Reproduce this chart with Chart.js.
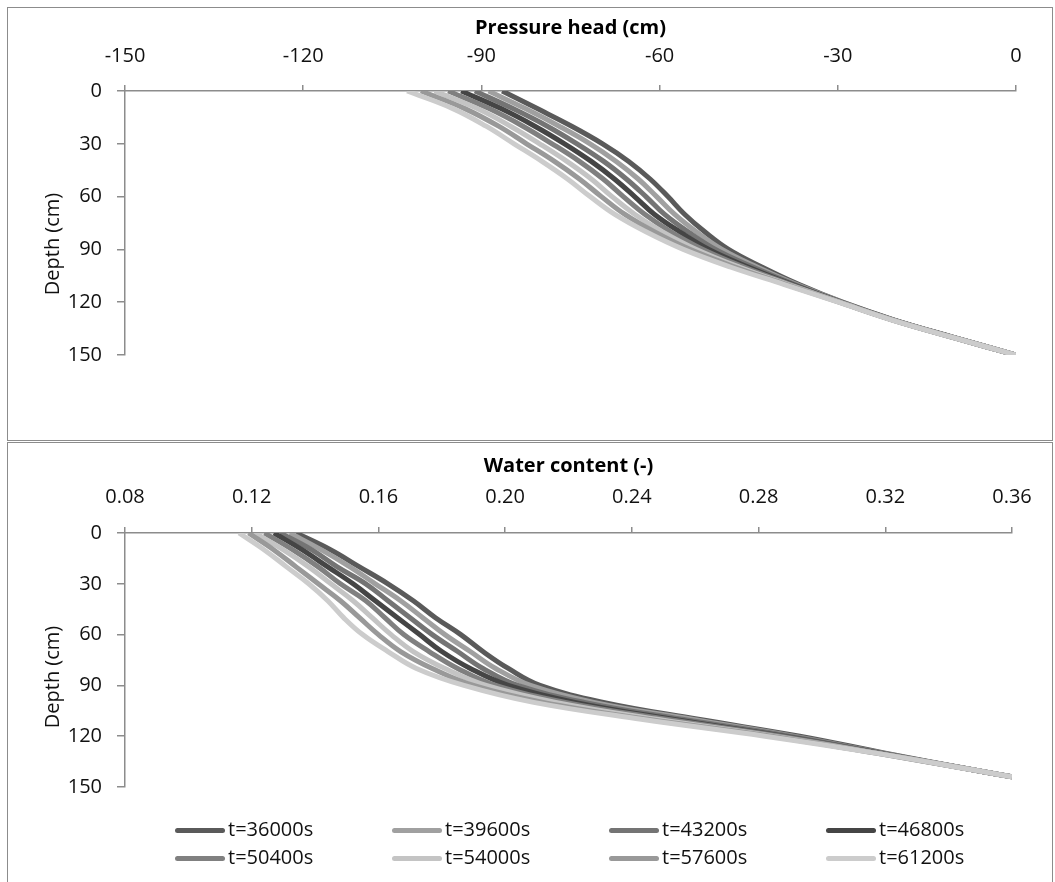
<!DOCTYPE html>
<html lang="en">
<head>
<meta charset="UTF-8">
<title>Pressure head and water content profiles</title>
<style>
  body {
    margin: 0;
    background: #fff;
    overflow: hidden;
    font-family: "Open Sans", sans-serif;
  }
  .panel {
    position: absolute;
    left: 7px;
    width: 1046px;
    border: 1px solid #8c8c8c;
    box-sizing: border-box;
    background: #fff;
  }
  #topPanel { top: 7px; height: 434px; }
  #bottomPanel { top: 442px; height: 470px; }
  canvas { display: block; }

  .legend {
    position: absolute;
    left: 167px;
    top: 372px;
    display: grid;
    grid-template-columns: repeat(4, 217px);
    font-size: 20px;
    line-height: 28px;
    color: #111;
  }
  .legend .key {
    display: inline-block;
    width: 50px;
    height: 5px;
    border-radius: 3px;
    vertical-align: middle;
    margin-right: 3px;
  }
</style>
</head>
<body>
<div class="panel" id="topPanel">
  <canvas id="headChart" width="1044" height="432"></canvas>
</div>
<div class="panel" id="bottomPanel">
  <canvas id="thetaChart" width="1044" height="440"></canvas>
  <div class="legend" id="legend"></div>
</div>

<script src="https://cdn.jsdelivr.net/npm/chart.js"></script>
<script>
// output times and line greys
const timeLabels = ['t=36000s', 't=39600s', 't=43200s', 't=46800s', 't=50400s', 't=54000s', 't=57600s', 't=61200s'];
const lineColors = ['#5a5a5a', '#a0a0a0', '#747474', '#454545', '#808080', '#c4c4c4', '#999999', '#cccccc'];

// depth nodes (cm)
const headDepths = [0, 10, 20, 30, 40, 50, 60, 70, 80, 90, 100, 110, 120, 130, 140, 150];
const thetaDepths = [0, 10, 20, 30, 40, 50, 60, 70, 80, 90, 100, 110, 120, 130, 140, 144];

// axis ticks
const headTicks = [-150, -120, -90, -60, -30, 0];
const thetaTicks = [0.08, 0.12, 0.16, 0.20, 0.24, 0.28, 0.32, 0.36];
const depthTicks = [0, 30, 60, 90, 120, 150];

// pressure head (cm) at each depth node
const head36000 = [-86.5, -80.6, -74.8, -69.6, -65.2, -61.6, -58.6, -55.8, -52.4, -48.4, -42.8, -36.5, -29.2, -20.6, -10.5, 0];
const head39600 = [-88.8, -82.6, -76.9, -71.7, -67.3, -63.6, -60.5, -57.5, -53.8, -49.5, -43.6, -36.9, -29.3, -20.7, -10.5, 0];
const head43200 = [-91.1, -84.7, -78.9, -73.9, -69.4, -65.6, -62.3, -59.2, -55.2, -50.6, -44.3, -37.2, -29.4, -20.7, -10.6, 0];
const head46800 = [-93.4, -86.7, -81.0, -76.0, -71.5, -67.6, -64.2, -60.9, -56.6, -51.7, -45.1, -37.6, -29.5, -20.8, -10.6, 0];
const head50400 = [-95.6, -88.7, -83.0, -78.1, -73.5, -69.5, -66.1, -62.5, -58.1, -52.7, -45.8, -37.9, -29.6, -20.8, -10.6, 0];
const head54000 = [-97.9, -90.7, -85.1, -80.2, -75.6, -71.5, -68.0, -64.2, -59.5, -53.8, -46.6, -38.3, -29.7, -20.9, -10.7, 0];
const head57600 = [-100.2, -92.8, -87.1, -82.4, -77.7, -73.5, -69.8, -65.9, -60.9, -54.9, -47.3, -38.6, -29.8, -20.9, -10.7, 0];
const head61200 = [-102.5, -94.8, -89.2, -84.5, -79.8, -75.5, -71.7, -67.6, -62.3, -56.0, -48.1, -39.0, -29.9, -21.0, -10.7, 0];

// volumetric water content (-) at each depth node
const theta36000 = [0.134, 0.145, 0.154, 0.163, 0.171, 0.178, 0.186, 0.193, 0.201, 0.211, 0.231, 0.261, 0.293, 0.320, 0.348, 0.360];
const theta39600 = [0.132, 0.142, 0.151, 0.159, 0.167, 0.174, 0.181, 0.189, 0.197, 0.208, 0.228, 0.259, 0.291, 0.319, 0.348, 0.360];
const theta43200 = [0.129, 0.139, 0.147, 0.156, 0.163, 0.170, 0.177, 0.185, 0.193, 0.204, 0.225, 0.256, 0.290, 0.319, 0.348, 0.360];
const theta46800 = [0.127, 0.136, 0.144, 0.152, 0.159, 0.166, 0.173, 0.180, 0.189, 0.201, 0.222, 0.253, 0.288, 0.318, 0.348, 0.360];
const theta50400 = [0.124, 0.133, 0.141, 0.148, 0.156, 0.162, 0.168, 0.176, 0.185, 0.197, 0.219, 0.251, 0.287, 0.318, 0.348, 0.360];
const theta54000 = [0.121, 0.130, 0.138, 0.145, 0.152, 0.158, 0.164, 0.171, 0.181, 0.194, 0.216, 0.248, 0.285, 0.317, 0.348, 0.360];
const theta57600 = [0.119, 0.127, 0.134, 0.141, 0.148, 0.154, 0.160, 0.167, 0.177, 0.190, 0.212, 0.245, 0.284, 0.317, 0.348, 0.360];
const theta61200 = [0.116, 0.124, 0.131, 0.138, 0.144, 0.149, 0.155, 0.163, 0.172, 0.187, 0.209, 0.243, 0.282, 0.317, 0.348, 0.360];

const headSeries = [head36000, head39600, head43200, head46800, head50400, head54000, head57600, head61200];
const thetaSeries = [theta36000, theta39600, theta43200, theta46800, theta50400, theta54000, theta57600, theta61200];

Chart.defaults.font.family = "'Open Sans', sans-serif";
Chart.defaults.font.size = 20;
Chart.defaults.color = '#111';

const axisGrey = '#8c8c8c';

// rotated depth label, sitting a little below the middle of the axis
const depthTitle = {
    id: 'depthTitle',
    afterDraw(chart, args, opts) {
        const { ctx, chartArea } = chart;
        ctx.save();
        ctx.translate(opts.x, (chartArea.top + chartArea.bottom) / 2 + opts.shift);
        ctx.rotate(-Math.PI / 2);
        ctx.font = "20px 'Open Sans'";
        ctx.fillStyle = '#111';
        ctx.textAlign = 'center';
        ctx.textBaseline = 'middle';
        ctx.fillText('Depth (cm)', 0, 0);
        ctx.restore();
    }
};

// one profile line per output time, later times drawn on top
function buildDatasets(series, depths) {
    return series.map((vals, i) => ({
        label: timeLabels[i],
        data: vals.map((v, j) => ({ x: v, y: depths[j] })),
        borderColor: lineColors[i],
        backgroundColor: lineColors[i],
        borderWidth: 5,
        pointRadius: 0,
        showLine: true,
        tension: 0.4,
        order: series.length - i
    }));
}

function buildOptions(cfg) {
    return {
        responsive: false,
        animation: false,
        layout: { padding: cfg.padding },
        plugins: {
            legend: { display: false },
            tooltip: { enabled: false },
            depthTitle: { x: 45, shift: cfg.titleShift }
        },
        scales: {
            x: {
                type: 'linear',
                position: 'top',
                min: cfg.xTicks[0],
                max: cfg.xTicks[cfg.xTicks.length - 1],
                afterBuildTicks: axis => { axis.ticks = cfg.xTicks.map(v => ({ value: v })); },
                // fixed band: title + labels + gap + tick marks
                afterFit: axis => { axis.height = cfg.xBand; },
                ticks: {
                    padding: cfg.tickPad,
                    maxRotation: 0,
                    callback: cfg.format
                },
                grid: { drawOnChartArea: false, tickLength: 6, color: axisGrey, lineWidth: 1.5 },
                border: { color: axisGrey, width: 1.5 },
                title: {
                    display: true,
                    text: cfg.xTitle,
                    font: { size: 20, weight: 'bold' },
                    color: '#000',
                    padding: { top: 0, bottom: 4 }
                }
            },
            y: {
                type: 'linear',
                reverse: true,
                min: 0,
                max: 150,
                afterBuildTicks: axis => { axis.ticks = depthTicks.map(v => ({ value: v })); },
                afterFit: axis => { axis.width = 89; },
                ticks: { padding: 15 },
                grid: { drawOnChartArea: false, tickLength: 8, color: axisGrey, lineWidth: 1.5 },
                border: { color: axisGrey, width: 1.5 }
            }
        }
    };
}

new Chart(document.getElementById('headChart'), {
    type: 'scatter',
    data: { datasets: buildDatasets(headSeries, headDepths) },
    options: buildOptions({
        xTitle: 'Pressure head (cm)',
        xTicks: headTicks,
        format: v => String(v),
        tickPad: 17,
        xBand: 75,
        titleShift: 21,
        padding: { left: 28, right: 36, top: 8, bottom: 85 }
    }),
    plugins: [depthTitle]
});

new Chart(document.getElementById('thetaChart'), {
    type: 'scatter',
    data: { datasets: buildDatasets(thetaSeries, thetaDepths) },
    options: buildOptions({
        xTitle: 'Water content (-)',
        xTicks: thetaTicks,
        format: v => v.toFixed(2),
        tickPad: 18,
        xBand: 79,
        titleShift: 17,
        padding: { left: 28, right: 40, top: 11, bottom: 96 }
    }),
    plugins: [depthTitle]
});

// legend below the water content profiles
const legendEl = document.getElementById('legend');
timeLabels.forEach((label, i) => {
    const item = document.createElement('div');
    const key = document.createElement('span');
    key.className = 'key';
    key.style.background = lineColors[i];
    item.appendChild(key);
    item.appendChild(document.createTextNode(label));
    legendEl.appendChild(item);
});
</script>
</body>
</html>
